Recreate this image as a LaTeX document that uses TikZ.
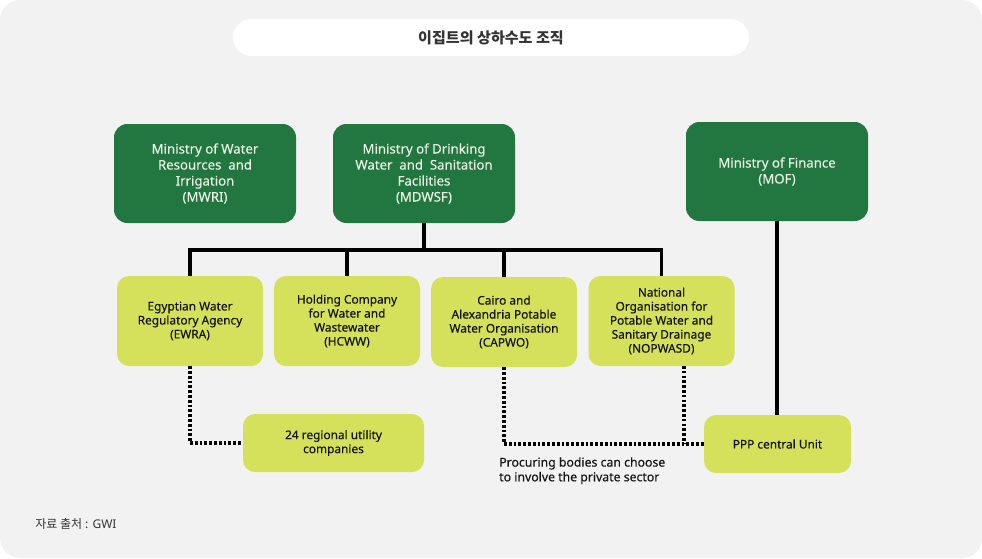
\documentclass[tikz,border=0pt]{standalone}
\usepackage{fontspec}
\setmainfont{Noto Sans}
\newfontfamily\kr{Noto Sans CJK KR}
\definecolor{bgc}{HTML}{F2F2F2}
\definecolor{dgreen}{HTML}{22763F}
\definecolor{lgreen}{HTML}{D5E05B}
\definecolor{dtext}{HTML}{EAF3E6}
\definecolor{btext}{HTML}{151515}
\definecolor{ttext}{HTML}{333333}
\begin{document}
\begin{tikzpicture}[x=0.75pt,y=-0.75pt,
  gbox/.style={fill=dgreen,draw=none,rounded corners=10pt,minimum width=136.5pt,minimum height=74.25pt,
    text=dtext,align=center,font=\fontsize{9.9}{12}\selectfont\addfontfeature{FakeBold=0.3},inner sep=0pt},
  lbox/.style={fill=lgreen,draw=none,rounded corners=9pt,minimum width=109.5pt,minimum height=67.5pt,
    text=btext,align=center,font=\fontsize{8.9}{10.5}\selectfont\addfontfeature{FakeBold=0.4},inner sep=0pt},
  conn/.style={draw=black,line width=2.3pt},
  dconn/.style={draw=black,line width=2.3pt,dash pattern=on 2pt off 1.6pt}]
\useasboundingbox (0,0) rectangle (982,558);
\fill[white] (0,0) rectangle (982,558);
\fill[bgc,rounded corners=15pt] (0,0) rectangle (982,558);
\node[fill=white,rounded corners=14pt,minimum width=387pt,minimum height=27.75pt,inner sep=0pt,
  font=\kr\bfseries\fontsize{11.3}{13}\selectfont,text=ttext] (title) at (491,37.5) {이집트의 상하수도 조직};
\node[gbox] (mwri) at (205,173.5) {Ministry of Water\\Resources\ \ and\\Irrigation\\(MWRI)};
\node[gbox] (mdwsf) at (424,173.5) {Ministry of Drinking\\Water\ \ and\ \ Sanitation\\Facilities\\(MDWSF)};
\node[gbox] (mof) at (777,171.5) {Ministry of Finance\\(MOF)};
\node[lbox] (ewra) at (190,321) {Egyptian Water\\Regulatory Agency\\(EWRA)};
\node[lbox] (hcww) at (347,321) {Holding Company\\for Water and\\Wastewater\\(HCWW)};
\node[lbox] (capwo) at (504,322) {Cairo and\\Alexandria Potable\\Water Organisation\\(CAPWO)};
\node[lbox] (nop) at (661.5,321) {National\\Organisation for\\Potable Water and\\Sanitary Drainage\\(NOPWASD)};
\node[lbox,minimum width=135.75pt,minimum height=43.5pt] (reg) at (333.5,443) {24 regional utility\\companies};
\node[lbox,minimum width=110.25pt,minimum height=43.5pt] (ppp) at (777.5,444) {PPP central Unit};
\coordinate (bar) at (424,250);
\draw[conn] (mdwsf.south) -- (bar);
\draw[conn] (ewra.north) |- (nop.north |- bar) -- (nop.north);
\draw[conn] (hcww.north) -- (hcww.north |- bar);
\draw[conn] (capwo.north) -- (capwo.north |- bar);
\draw[conn] (mof.south) -- (mof.south |- ppp.north);
\draw[dconn] (ewra.south) |- (reg.west);
\draw[dconn] (capwo.south) |- (ppp.west);
\coordinate (nopd) at (684,366);
\draw[dconn] (nopd) -- (nopd |- ppp.west);
\node[anchor=north west,align=left,inner sep=0pt,text=btext,font=\fontsize{9.2}{11}\selectfont\addfontfeature{FakeBold=0.3}] (note) at (499,457)
  {Procuring bodies can choose\\to involve the private sector};
\node[anchor=west,inner sep=0pt,text=ttext,font=\fontsize{9}{10}\selectfont] (src) at (35,524) {{\kr 자료 출처} : GWI};
\end{tikzpicture}
\end{document}
